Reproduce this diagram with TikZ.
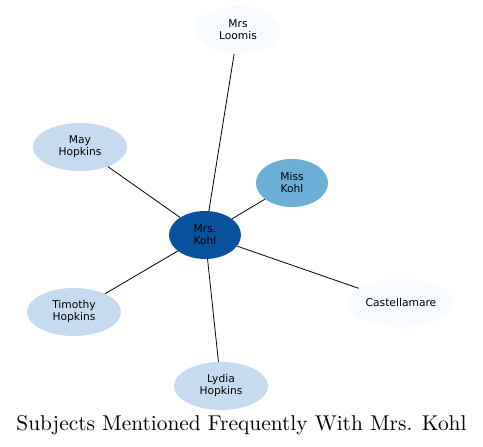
\documentclass[tikz,border=0pt]{standalone}
\usepackage{fontspec}
\newfontfamily\nodefont{DejaVu Sans}
\newfontfamily\titlefont{lmroman10-regular}[Extension=.otf]
\usetikzlibrary{shapes.geometric}
\definecolor{cdark}{HTML}{08519C}
\definecolor{cmid}{HTML}{6BAED6}
\definecolor{clight}{HTML}{C6DBEF}
\definecolor{cpale}{HTML}{F7FBFF}
\tikzset{
  ent/.style={ellipse, inner sep=0pt, minimum height=48pt, align=center,
    font=\nodefont\fontsize{10.7}{12}\selectfont, text=black},
  link/.style={draw=black, line width=0.8pt}
}
\begin{document}
\begin{tikzpicture}[x=1pt,y=-1pt]
\useasboundingbox (0,0) rectangle (483,447);
\node[ent, fill=cdark, minimum width=72pt] (kohl) at (205,235) {Mrs.\\Kohl};
\node[ent, fill=cpale, minimum width=86pt] (loomis) at (238,30) {Mrs\\Loomis};
\node[ent, fill=clight, minimum width=94pt] (may) at (80,147) {May\\Hopkins};
\node[ent, fill=cmid, minimum width=72pt] (miss) at (292,183) {Miss\\Kohl};
\node[ent, fill=cpale, minimum width=106pt] (cast) at (401,303) {Castellamare};
\node[ent, fill=clight, minimum width=94pt] (tim) at (74,312) {Timothy\\Hopkins};
\node[ent, fill=clight, minimum width=94pt] (lydia) at (221,386) {Lydia\\Hopkins};
\draw[link] (kohl) -- (loomis);
\draw[link] (kohl) -- (may);
\draw[link] (kohl) -- (miss);
\draw[link] (kohl) -- (cast);
\draw[link] (kohl) -- (tim);
\draw[link] (kohl) -- (lydia);
\node[font=\titlefont\fontsize{21.4}{25}\selectfont] (title) at (241.5,425) {Subjects Mentioned Frequently With Mrs. Kohl};
\end{tikzpicture}
\end{document}
